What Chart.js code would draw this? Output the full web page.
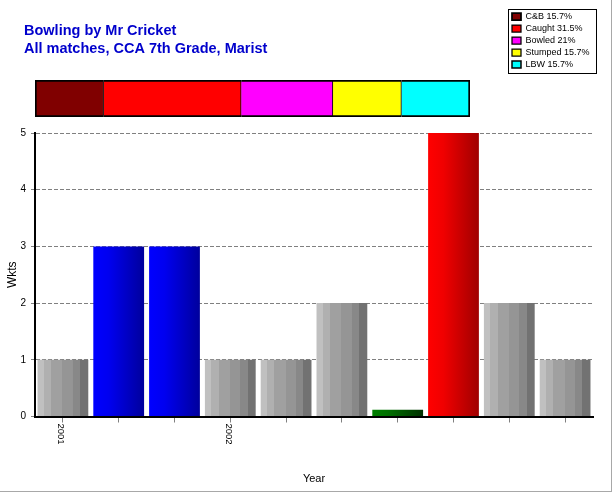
<!DOCTYPE html>
<html><head><meta charset="utf-8">
<script src="https://cdn.jsdelivr.net/npm/chart.js@4.4.1/dist/chart.umd.min.js"></script>
<style>
html,body{margin:0;padding:0;background:#fff;}
#wrap{position:relative;width:614px;height:493px;overflow:hidden;background:#fff;}
canvas{position:absolute;left:0;top:0;}
#bR{position:absolute;left:611px;top:0;width:1px;height:492px;background:#a8a8a8;}
#bB{position:absolute;left:0;top:491px;width:612px;height:1px;background:#a8a8a8;}
</style></head><body>
<div id="wrap">
<canvas id="main" width="614" height="493"></canvas>
<canvas id="top" width="614" height="125"></canvas>
<div id="bR"></div><div id="bB"></div>
</div>
<script>
// ---- data ----
const titleLines = ['Bowling by Mr Cricket', 'All matches, CCA 7th Grade, Marist'];
const yearLabels = ['2001', '', '', '2002', '', '', '', '', '', ''];
const wickets = [1, 3, 3, 1, 1, 2, 0.12, 5, 2, 1];
const barStyles = ['gray', 'blue', 'blue', 'gray', 'gray', 'gray', 'green', 'red', 'gray', 'gray'];
const dismissalTypes = ['C&B', 'Caught', 'Bowled', 'Stumped', 'LBW'];
const dismissalPct = [15.7, 31.5, 21, 15.7, 15.7];
const dismissalColors = ['#800000', '#ff0000', '#ff00ff', '#ffff00', '#00ffff'];

Chart.defaults.font.family = "'Liberation Sans', Arial, sans-serif";
Chart.defaults.color = '#000';

// ---- bar fills (horizontal shading) ----
const ramps = {
  gray: { stepped: true, colors: ['#c0c0c0', '#b0b0b0', '#a0a0a0', '#959595', '#888888', '#727272'], edges: [0, 0.12, 0.27, 0.49, 0.69, 0.84, 1] },
  blue: { stops: [[0, '#0000ff'], [0.3, '#0000f0'], [1, '#00009c']] },
  red: { stops: [[0, '#ff0000'], [0.3, '#f00000'], [1, '#a00000']] },
  green: { stops: [[0, '#008000'], [0.3, '#007000'], [1, '#003000']] }
};
const solid = { gray: '#999999', blue: '#0000e0', red: '#e00000', green: '#006000' };
const BAR_PCT = 0.91;

function barFill(c) {
  const chart = c.chart;
  const style = barStyles[c.dataIndex];
  if (!chart.chartArea) return solid[style];
  const xs = chart.scales.x;
  const cx = xs.getPixelForValue(c.dataIndex);
  const w = xs.width / yearLabels.length * BAR_PCT;
  const g = chart.ctx.createLinearGradient(cx - w / 2, 0, cx + w / 2, 0);
  const r = ramps[style];
  if (r.stepped) {
    r.colors.forEach((col, k) => {
      g.addColorStop(r.edges[k], col);
      g.addColorStop(Math.max(r.edges[k], r.edges[k + 1] - 0.001), col);
    });
  } else {
    r.stops.forEach(s => g.addColorStop(s[0], s[1]));
  }
  return g;
}

// rotated year labels (read top to bottom)
const xLabelPlugin = {
  id: 'xLabels',
  afterDraw(chart) {
    const xs = chart.scales.x;
    const ctx = chart.ctx;
    ctx.save();
    ctx.font = "9.5px 'Liberation Sans', Arial, sans-serif";
    ctx.fillStyle = '#000';
    ctx.textAlign = 'left';
    ctx.textBaseline = 'middle';
    yearLabels.forEach((lab, i) => {
      if (!lab) return;
      const x = xs.getPixelForTick(i);
      ctx.save();
      ctx.translate(x - 2, xs.top + 7);
      ctx.rotate(Math.PI / 2);
      ctx.fillText(lab, 0, 0);
      ctx.restore();
    });
    ctx.restore();
  }
};

new Chart(document.getElementById('main'), {
  type: 'bar',
  data: {
    labels: yearLabels,
    datasets: [{
      data: wickets,
      backgroundColor: barFill,
      borderWidth: 0,
      categoryPercentage: 1,
      barPercentage: BAR_PCT
    }]
  },
  options: {
    responsive: false,
    animation: false,
    devicePixelRatio: 1,
    layout: { padding: { top: 133, right: 21, bottom: 0, left: 0 } },
    plugins: { legend: { display: false }, title: { display: false }, tooltip: { enabled: false } },
    scales: {
      x: {
        grid: { display: true, offset: false, drawOnChartArea: false, drawTicks: true, tickLength: 6, tickColor: '#808080', tickWidth: 1 },
        border: { display: true, color: '#000', width: 2 },
        ticks: { display: false },
        title: { display: true, text: 'Year', color: '#000', font: { size: 11 }, padding: { top: 0, bottom: 7 } },
        afterFit: s => { s.height = 76.5; }
      },
      y: {
        min: 0, max: 5,
        ticks: { stepSize: 1, color: '#000', font: { size: 10 }, padding: 5 },
        grid: { color: '#808080', lineWidth: 1, drawTicks: true, tickLength: 4, tickColor: '#808080' },
        border: { display: true, color: '#000', width: 2, dash: [4, 2] },
        title: { display: true, text: 'Wkts', color: '#000', font: { size: 12 }, padding: { top: 5, bottom: 0 } },
        afterFit: s => { s.width = 35; }
      }
    }
  },
  plugins: [xLabelPlugin]
});

// ---- top strip: dismissal share + legend + title ----
const legendFrame = {
  id: 'legendFrame',
  afterDraw(chart) {
    const lg = chart.legend;
    if (!lg || !lg.legendHitBoxes || !lg.legendHitBoxes.length) return;
    const hb = lg.legendHitBoxes;
    const last = hb[hb.length - 1];
    const ctx = chart.ctx;
    ctx.save();
    ctx.strokeStyle = '#000';
    ctx.lineWidth = 1;
    const x0 = Math.round(lg.left) - 0.5, y0 = Math.round(lg.top) + 0.5;
    const x1 = Math.round(lg.right) + 0.5, y1 = Math.round(last.top + last.height) + 4.5;
    ctx.strokeRect(x0, y0, x1 - x0, y1 - y0);
    ctx.restore();
  }
};

const lastIdx = dismissalTypes.length - 1;
const shareTotal = dismissalPct.reduce((a, b) => a + b, 0);

new Chart(document.getElementById('top'), {
  type: 'bar',
  data: {
    labels: [''],
    datasets: dismissalTypes.map((t, i) => ({
      label: t + ' ' + dismissalPct[i] + '%',
      data: [dismissalPct[i]],
      backgroundColor: dismissalColors[i],
      borderColor: '#000',
      borderWidth: { top: 2, bottom: 2, left: i === 0 ? 2 : 0, right: i === lastIdx ? 2 : 1 },
      borderSkipped: false,
      categoryPercentage: 1,
      barPercentage: 1
    }))
  },
  options: {
    indexAxis: 'y',
    responsive: false,
    animation: false,
    devicePixelRatio: 1,
    layout: { padding: { top: 9, left: 24, right: 18, bottom: 8 } },
    plugins: {
      title: {
        display: true, text: titleLines, align: 'start', color: '#0000cc',
        font: { size: 14.5, weight: 'bold', lineHeight: 1.24 },
        padding: { top: 13, bottom: 22 }
      },
      legend: {
        display: true, position: 'right', align: 'start', maxWidth: 87,
        labels: { boxWidth: 9, boxHeight: 7, padding: 3, color: '#000', font: { size: 9 } }
      },
      tooltip: { enabled: false }
    },
    scales: {
      x: { type: 'linear', stacked: true, min: 0, max: shareTotal, display: false },
      y: {
        type: 'category', stacked: true, display: true,
        ticks: { display: false }, grid: { display: false }, border: { display: false },
        afterFit: s => { s.width = 11; }
      },
      gap: {
        type: 'linear', position: 'right', display: true,
        ticks: { display: false }, grid: { display: false }, border: { display: false },
        afterFit: s => { s.width = 39; }
      }
    }
  },
  plugins: [legendFrame]
});
</script>
</body></html>
